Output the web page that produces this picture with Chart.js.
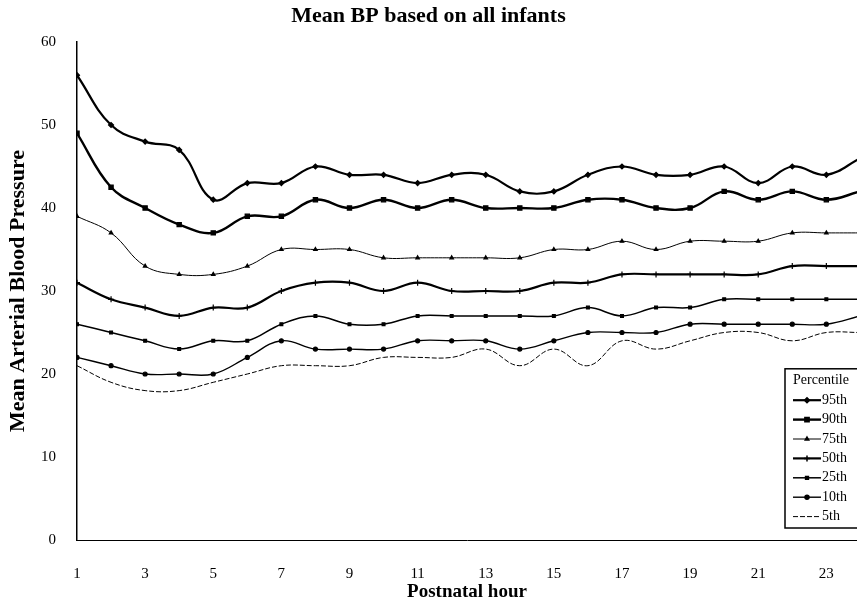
<!DOCTYPE html>
<html>
<head>
<meta charset="utf-8">
<script src="https://cdn.jsdelivr.net/npm/chart.js@4/dist/chart.umd.min.js"></script>
<style>
  html, body { margin: 0; padding: 0; background: #ffffff; }
  #wrap { width: 857px; height: 605px; }
</style>
</head>
<body>
<div id="wrap"><canvas id="c" width="857" height="605"></canvas></div>
<script>
// ---- data ----
const hours = [1,2,3,4,5,6,7,8,9,10,11,12,13,14,15,16,17,18,19,20,21,22,23,24];
const xTickLabels = [1,3,5,7,9,11,13,15,17,19,21,23];
const seriesNames = ['95th','90th','75th','50th','25th','10th','5th'];
const p95 = [56,50,48,47,41,43,43,45,44,44,43,44,44,42,42,44,45,44,44,45,43,45,44,46];
const p90 = [49,42.5,40,38,37,39,39,41,40,41,40,41,40,40,40,41,41,40,40,42,41,42,41,42];
const p75 = [39,37,33,32,32,33,35,35,35,34,34,34,34,34,35,35,36,35,36,36,36,37,37,37];
const p50 = [31,29,28,27,28,28,30,31,31,30,31,30,30,30,31,31,32,32,32,32,32,33,33,33];
const p25 = [26,25,24,23,24,24,26,27,26,26,27,27,27,27,27,28,27,28,28,29,29,29,29,29];
const p10 = [22,21,20,20,20,22,24,23,23,23,24,24,24,23,24,25,25,25,26,26,26,26,26,27];
const p5  = [21,19,18,18,19,20,21,21,21,22,22,22,23,21,23,21,24,23,24,25,25,24,25,25];

const serif = "'Liberation Serif', 'DejaVu Serif', serif";

function pts(arr) { return arr.map((v, i) => ({ x: hours[i], y: v })); }

const styles = [
  { data: p95, w: 2.2, ps: 'rectRot', r: 2.5, dash: [] },
  { data: p90, w: 2.4, ps: 'rect', r: 3, dash: [] },
  { data: p75, w: 1.0, ps: 'triangle', r: 2, dash: [] },
  { data: p50, w: 2.2, ps: 'cross', r: 3, dash: [] },
  { data: p25, w: 1.5, ps: 'rect', r: 2, dash: [] },
  { data: p10, w: 1.4, ps: 'circle', r: 2, dash: [] },
  { data: p5,  w: 1.0, ps: 'line', r: 0, dash: [5, 2] }
];

const datasets = styles.map((s, i) => ({
  label: seriesNames[i],
  data: pts(s.data),
  borderColor: '#000',
  backgroundColor: '#000',
  borderWidth: s.w,
  borderDash: s.dash,
  pointStyle: s.ps,
  pointRadius: s.r,
  pointBorderWidth: 1.2,
  pointBackgroundColor: '#000',
  pointBorderColor: '#000',
  tension: 0.4,
  fill: false
}));

const legendBox = {
  id: 'legendBox',
  afterDraw(chart) {
    const ctx = chart.ctx;
    const ca = chart.chartArea;
    const left = ca.right - 72;
    const bottom = ca.bottom - 12;
    const rowH = 19.4;
    const top = bottom - rowH * (datasets.length + 1) - 4;
    ctx.save();
    ctx.fillStyle = '#fff';
    ctx.fillRect(left, top, 110, bottom - top);
    ctx.strokeStyle = '#000';
    ctx.lineWidth = 1.5;
    ctx.strokeRect(left, top, 110, bottom - top);
    ctx.fillStyle = '#000';
    ctx.textBaseline = 'middle';
    ctx.textAlign = 'left';
    ctx.font = '14px ' + serif;
    ctx.fillText('Percentile', left + 8, top + 12);
    chart.data.datasets.forEach((ds, i) => {
      const y = top + 12 + rowH * (i + 1);
      const x0 = left + 8, x1 = left + 36;
      ctx.save();
      ctx.strokeStyle = '#000';
      ctx.lineWidth = ds.borderWidth;
      ctx.setLineDash(ds.borderDash || []);
      ctx.beginPath();
      ctx.moveTo(x0, y);
      ctx.lineTo(x1, y);
      ctx.stroke();
      ctx.restore();
      if (ds.pointRadius > 0) {
        Chart.helpers.drawPoint(ctx, {
          pointStyle: ds.pointStyle,
          radius: ds.pointRadius,
          borderWidth: ds.pointBorderWidth,
          rotation: 0
        }, (x0 + x1) / 2, y);
      }
      ctx.fillStyle = '#000';
      ctx.font = '14px ' + serif;
      ctx.fillText(ds.label, x1 + 1, y);
    });
    ctx.restore();
  }
};

new Chart(document.getElementById('c'), {
  type: 'line',
  data: { datasets },
  plugins: [legendBox],
  options: {
    responsive: false,
    animation: false,
    devicePixelRatio: 1,
    layout: { autoPadding: false, padding: { left: 0, right: 0, top: 0, bottom: 0 } },
    plugins: {
      legend: { display: false },
      tooltip: { enabled: false },
      title: {
        display: true,
        text: 'Mean BP based on all infants',
        color: '#000',
        font: { family: serif, size: 22, weight: 'bold' },
        padding: { top: 3, bottom: 12.6 }
      }
    },
    scales: {
      x: {
        type: 'linear',
        min: 1,
        max: 23.9,
        afterBuildTicks: (s) => { s.ticks = xTickLabels.map(v => ({ value: v })); },
        afterFit: (s) => { s.height = 65; s.paddingRight = 0; s.paddingLeft = 0; },
        grid: { display: false },
        border: { display: true, color: '#000', width: 1 },
        ticks: { color: '#000', font: { family: serif, size: 15 }, padding: 17, maxRotation: 0, autoSkip: false },
        title: { display: true, text: 'Postnatal hour', color: '#000', font: { family: serif, size: 19, weight: 'bold' }, padding: { top: 0, bottom: 2 } }
      },
      y: {
        min: 0,
        max: 60,
        afterFit: (s) => { s.width = 77; },
        grid: { display: false },
        border: { display: true, color: '#000', width: 1.5 },
        ticks: { stepSize: 10, color: '#000', font: { family: serif, size: 15 }, padding: 13 },
        title: { display: true, text: 'Mean Arterial Blood Pressure', color: '#000', font: { family: serif, size: 22, weight: 'bold' }, padding: { top: 5, bottom: 0 } }
      }
    }
  }
});
</script>
</body>
</html>
